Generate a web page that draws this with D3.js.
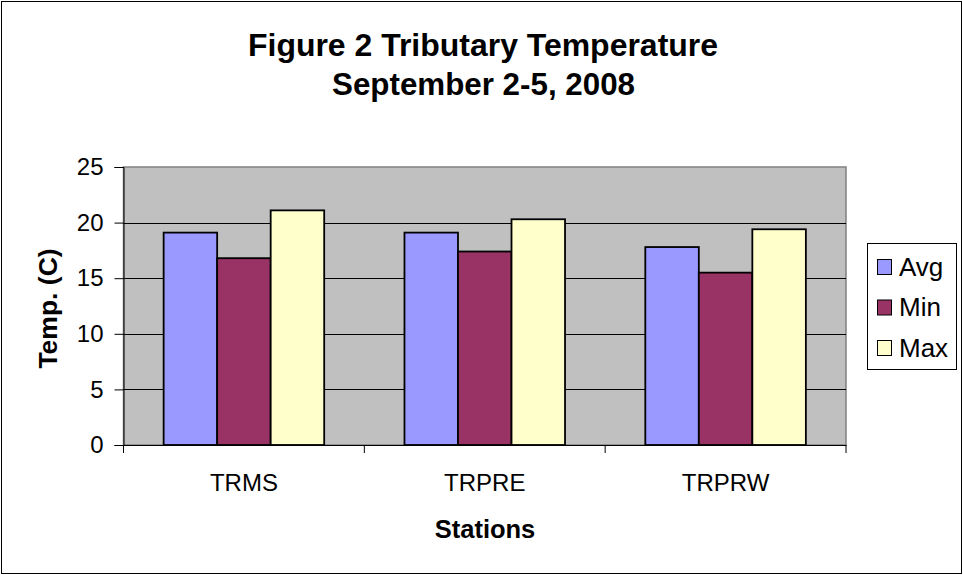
<!DOCTYPE html>
<html><head><meta charset="utf-8">
<script src="https://cdn.jsdelivr.net/npm/d3@7"></script>
<style>body{margin:0;background:#fff}svg{display:block;font-family:"Liberation Sans",Arial,sans-serif}</style>
</head><body><svg id="c" width="963" height="575"></svg>
<script>
const categories = ["TRMS", "TRPRE", "TRPRW"];
const seriesNames = ["Avg", "Min", "Max"];
const avgValues = [19.1, 19.1, 17.8];
const minValues = [16.8, 17.4, 15.5];
const maxValues = [21.1, 20.3, 19.4];
const yTicks = [0, 5, 10, 15, 20, 25];
const colors = ["#9999ff", "#993366", "#ffffcc"];
const seriesValues = [avgValues, minValues, maxValues];
const FONT = "'Liberation Sans',Arial,sans-serif";

const svg = d3.select("#c");
svg.append("rect").attr("x",1.5).attr("y",1.5).attr("width",960).attr("height",572)
  .attr("fill","#fff").attr("stroke","#000").attr("stroke-width",1);

const L=123.5, R=846, T=167, B=445;
const x = d3.scaleBand().domain(categories).range([L,R]).padding(0);
const inner = d3.scaleBand().domain(seriesNames).range([0, x.bandwidth()]).paddingInner(0).paddingOuter(0.75);
const y = d3.scaleLinear().domain([0,25]).range([B,T]);

svg.append("rect").attr("x",L).attr("y",T).attr("width",R-L).attr("height",B-T)
  .attr("fill","#c0c0c0").attr("stroke","#808080").attr("stroke-width",1.5);

// gridlines
svg.append("g").selectAll("line").data(yTicks.filter(d=>d>0 && d<25)).join("line")
  .attr("x1",L).attr("x2",R).attr("y1",d=>Math.round(y(d))+0.5).attr("y2",d=>Math.round(y(d))+0.5)
  .attr("stroke","#000").attr("stroke-width",1);

// bars
const groups = svg.append("g").selectAll("g").data(categories).join("g")
  .attr("transform",c=>`translate(${x(c)},0)`);
groups.selectAll("rect").data((c,i)=>seriesNames.map((s,j)=>({s, v:seriesValues[j][i], j}))).join("rect")
  .attr("x",d=>inner(d.s)).attr("width",inner.bandwidth())
  .attr("y",d=>y(d.v)).attr("height",d=>B-y(d.v))
  .attr("fill",d=>colors[d.j]).attr("stroke","#000").attr("stroke-width",1.8);

// y axis
const yAxis = d3.axisLeft(y).tickValues(yTicks).tickSize(9).tickPadding(11).tickFormat(d3.format("d"));
const gy = svg.append("g").attr("transform",`translate(${L},0)`).call(yAxis);
gy.select(".domain").attr("stroke","#000");
gy.selectAll("text").attr("font-size",24).attr("fill","#000").attr("font-family",FONT);

// x axis
const xAxis = d3.axisBottom(x).tickSize(0).tickPadding(29);
const gx = svg.append("g").attr("transform",`translate(0,${B})`).call(xAxis);
gx.select(".domain").attr("stroke","#000");
gx.selectAll("text").attr("font-size",24).attr("fill","#000").attr("font-family",FONT);
gx.selectAll(".bnd").data([L, ...categories.map(c=>x(c)+x.bandwidth())]).join("line")
  .attr("x1",d=>d).attr("x2",d=>d).attr("y1",0).attr("y2",8).attr("stroke","#000");

// titles
svg.append("text").attr("x",483).attr("y",56).attr("text-anchor","middle").attr("font-weight","bold")
  .attr("font-size",31).attr("textLength",470).attr("lengthAdjust","spacingAndGlyphs")
  .text("Figure 2 Tributary Temperature");
svg.append("text").attr("x",483.5).attr("y",95).attr("text-anchor","middle").attr("font-weight","bold")
  .attr("font-size",31).attr("textLength",303).attr("lengthAdjust","spacingAndGlyphs")
  .text("September 2-5, 2008");

svg.append("text").attr("x",485).attr("y",538).attr("text-anchor","middle")
  .attr("font-weight","bold").attr("font-size",25.5).text("Stations");
svg.append("text").attr("transform","translate(57,308.5) rotate(-90)").attr("text-anchor","middle")
  .attr("font-weight","bold").attr("font-size",26.5).text("Temp. (C)");

// legend
const lg = svg.append("g");
lg.append("rect").attr("x",867.5).attr("y",243.5).attr("width",89).attr("height",126)
  .attr("fill","#fff").attr("stroke","#000");
const items = lg.selectAll("g.it").data(seriesNames).join("g").attr("class","it")
  .attr("transform",(d,i)=>`translate(0,${267+i*40.5})`);
items.append("rect").attr("x",877.5).attr("y",-7.5).attr("width",14).attr("height",15)
  .attr("fill",(d,i)=>colors[i]).attr("stroke","#000");
items.append("text").attr("x",899).attr("y",8.5).attr("font-size",26).text(d=>d);
</script></body></html>
